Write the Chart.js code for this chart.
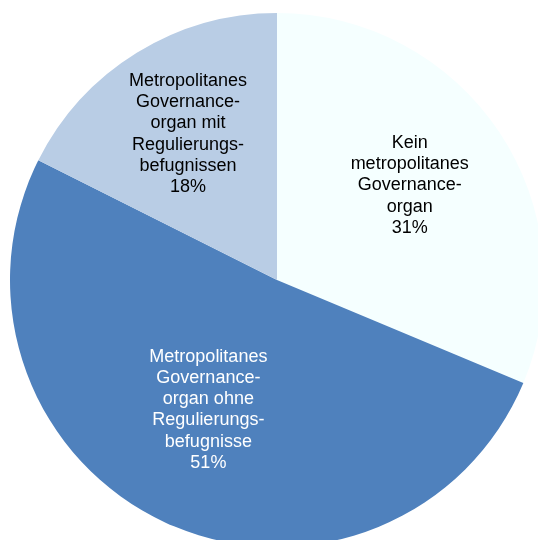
<!DOCTYPE html>
<html>
<head>
<meta charset="utf-8">
<script src="https://cdn.jsdelivr.net/npm/chart.js@4.4.0/dist/chart.umd.min.js"></script>
<style>
html,body{margin:0;padding:0;background:#fff;overflow:hidden;width:538px;height:540px;}
#wrap{position:absolute;left:0;top:0;width:554px;height:560px;}
</style>
</head>
<body>
<div id="wrap"><canvas id="c"></canvas></div>
<script>
const categories = [
  ["Kein", "metropolitanes", "Governance-", "organ"],
  ["Metropolitanes", "Governance-", "organ ohne", "Regulierungs-", "befugnisse"],
  ["Metropolitanes", "Governance-", "organ mit", "Regulierungs-", "befugnissen"]
];
const values = [31.3, 51.1, 17.6];
const percentLabels = ["31%", "51%", "18%"];
const colors = ["#F5FFFF", "#4F81BD", "#B9CDE5"];
const labelColors = ["#000000", "#FFFFFF", "#000000"];
const labelRadius = [0.61, 0.55, 0.64];
const labelAngleShift = [-1.8, 3.2, 0.3];

const labelPlugin = {
  id: 'sliceLabels',
  afterDatasetsDraw(chart) {
    const ctx = chart.ctx;
    const meta = chart.getDatasetMeta(0);
    ctx.save();
    ctx.font = '18px "Liberation Sans", Arial, sans-serif';
    ctx.textAlign = 'center';
    ctx.textBaseline = 'middle';
    const lh = 21.2;
    meta.data.forEach((arc, i) => {
      const mid = (arc.startAngle + arc.endAngle) / 2 + labelAngleShift[i] * Math.PI / 180;
      const r = arc.outerRadius * labelRadius[i];
      const cx = arc.x + Math.cos(mid) * r;
      const cy = arc.y + Math.sin(mid) * r;
      const lines = categories[i].concat([percentLabels[i]]);
      const top = cy - (lines.length - 1) * lh / 2;
      ctx.fillStyle = labelColors[i];
      lines.forEach((t, k) => ctx.fillText(t, cx, top + k * lh));
    });
    ctx.restore();
  }
};

new Chart(document.getElementById('c'), {
  type: 'pie',
  data: {
    labels: categories.map(c => c.join(' ')),
    datasets: [{
      data: values,
      backgroundColor: colors,
      borderWidth: 0
    }]
  },
  options: {
    responsive: true,
    maintainAspectRatio: false,
    animation: false,
    layout: { padding: 10 },
    plugins: { legend: { display: false }, tooltip: { enabled: false } }
  },
  plugins: [labelPlugin]
});
</script>
</body>
</html>
